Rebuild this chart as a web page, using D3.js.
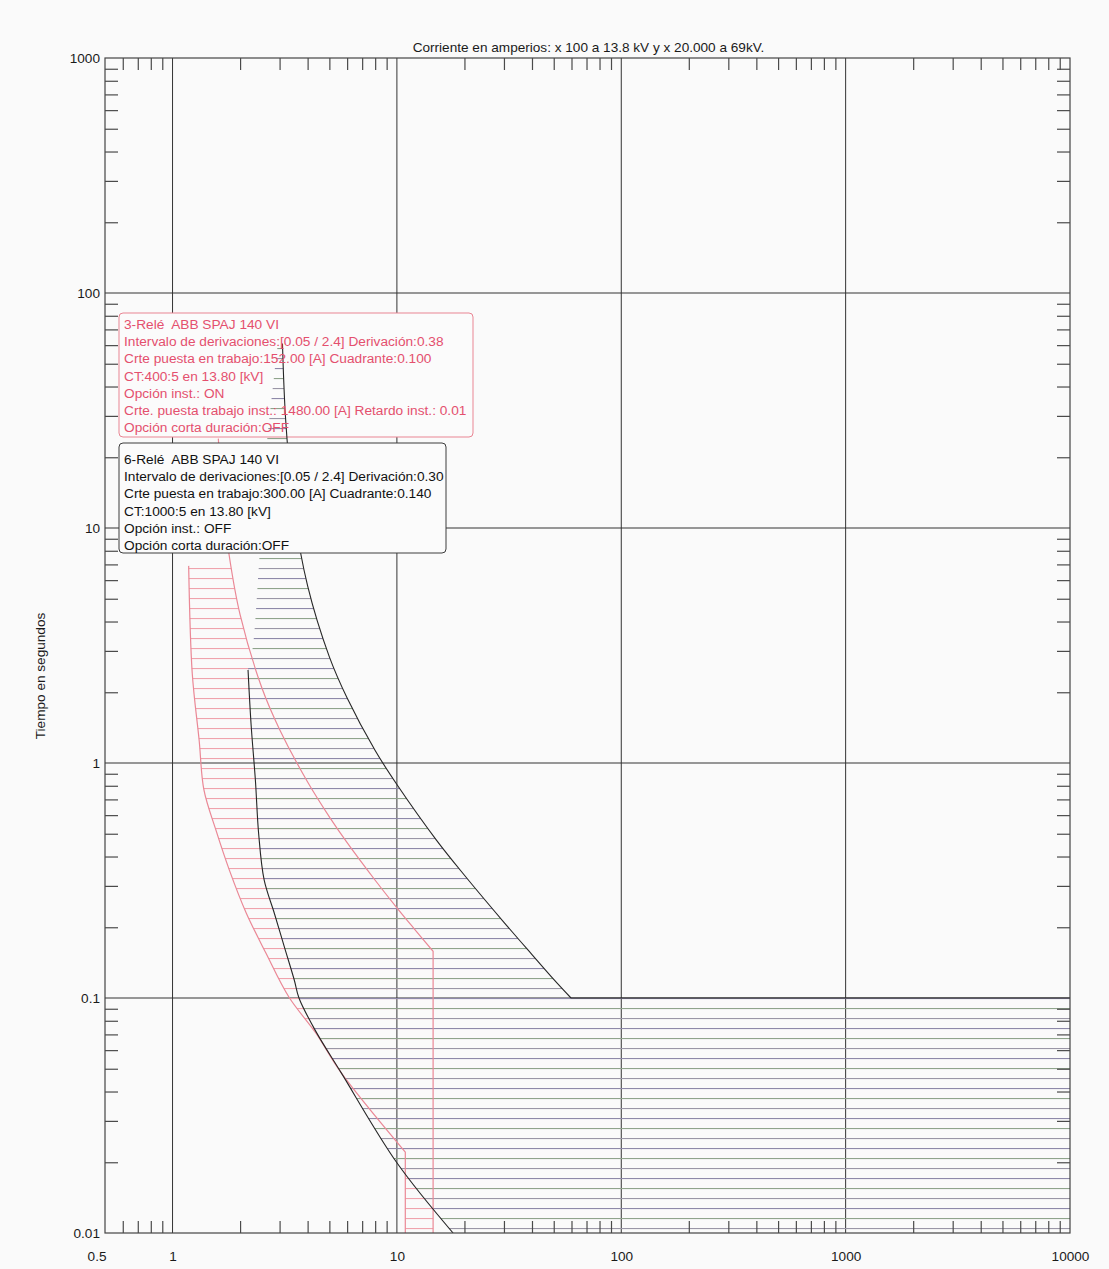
<!DOCTYPE html>
<html><head><meta charset="utf-8">
<script src="https://cdn.jsdelivr.net/npm/d3@7/dist/d3.min.js"></script>
<style>
body{margin:0;background:#fafafa;}
text{font-family:"Liberation Sans",Arial,sans-serif;white-space:pre;}
</style></head>
<body>
<svg id="chart" width="1109" height="1269"></svg>
<script>
// ---------- data ----------
const xMajor = [0.5, 1, 10, 100, 1000, 10000];
const xTickLabels = ["0.5", "1", "10", "100", "1000", "10000"];
const yMajor = [0.01, 0.1, 1, 10, 100, 1000];
const yTickLabels = ["0.01", "0.1", "1", "10", "100", "1000"];

const titleText = "Corriente en amperios: x 100 a 13.8 kV y x 20.000 a 69kV.";
const yLabelText = "Tiempo en segundos";

// Relay 3 (red) - minimum (left) curve, current (x100 A) / time (s)
const relay3MinI = [1.18, 1.224, 1.314, 1.38, 1.56, 1.79, 2.13, 2.61, 3.30, 4.35, 5.65, 10.9, 10.9];
const relay3MinT = [6.9, 2.41, 1.25, 0.768, 0.519, 0.351, 0.230, 0.155, 0.101, 0.071, 0.048, 0.0221, 0.01];
// Relay 3 (red) - maximum (right) curve with instantaneous at 14.5
const relay3MaxI = [1.60, 1.62, 1.70, 1.79, 2.0, 2.5, 3.0, 4.0, 5.0, 6.0, 8.0, 10, 12, 14.5, 14.5];
const relay3MaxT = [24, 20, 11.4, 7.6, 4.28, 2.09, 1.39, 0.83, 0.59, 0.458, 0.317, 0.242, 0.196, 0.158, 0.01];
const relay3BandTopT = 7.1;

// Relay 6 (black) - upper curve, then definite time at 0.1 s
const relay6MaxI = [3.09, 3.2, 3.5, 4.0, 5.0, 6.0, 8.0, 10, 15, 20, 30, 40, 50, 59.7];
const relay6MaxT = [61, 28, 11.3, 5.67, 2.83, 1.89, 1.13, 0.81, 0.47, 0.333, 0.21, 0.153, 0.12, 0.1];
const relay6FlatT = 0.1;
// Relay 6 (black) - lower curve
const relay6MinI = [2.17, 2.24, 2.34, 2.42, 2.56, 2.84, 3.15, 3.49, 3.66, 4.32, 5.65, 10.0, 17.8];
const relay6MinT = [2.49, 1.45, 0.846, 0.50, 0.318, 0.23, 0.165, 0.119, 0.1, 0.073, 0.048, 0.0199, 0.01];
// Relay 6 band left boundary above the lower curve (hatch edge only)
const relay6BandEdgeI = [2.95, 2.84, 2.6, 2.43, 2.27];
const relay6BandEdgeT = [61, 45, 20, 7.1, 3.03];

const legend3 = ["3-Relé  ABB SPAJ 140 VI",
  "Intervalo de derivaciones:[0.05 / 2.4] Derivación:0.38",
  "Crte puesta en trabajo:152.00 [A] Cuadrante:0.100",
  "CT:400:5 en 13.80 [kV]",
  "Opción inst.: ON",
  "Crte. puesta trabajo inst.: 1480.00 [A] Retardo inst.: 0.01",
  "Opción corta duración:OFF"];
const legend6 = ["6-Relé  ABB SPAJ 140 VI",
  "Intervalo de derivaciones:[0.05 / 2.4] Derivación:0.30",
  "Crte puesta en trabajo:300.00 [A] Cuadrante:0.140",
  "CT:1000:5 en 13.80 [kV]",
  "Opción inst.: OFF",
  "Opción corta duración:OFF"];

// ---------- layout ----------
const svg = d3.select("#chart");
const L = 105, R = 1070, T = 58, B = 1233;
const x = d3.scaleLog().domain([0.5, 10000]).range([L, R]);
const y = d3.scaleLog().domain([0.01, 1000]).range([B, T]);

const zip = (a, b) => a.map((v, i) => [v, b[i]]);
const smooth = d3.line().x(d => x(d[0])).y(d => y(d[1])).curve(d3.curveCatmullRom.alpha(0.5));
// smooth curve, with straight segments where the curve turns vertical at its ends
function curvePath(pts) {
  let start = 0, end = pts.length;
  if (pts.length > 2 && pts[end - 1][0] === pts[end - 2][0]) end -= 1;
  if (pts.length > 2 && pts[0][0] === pts[1][0]) start = 1;
  let d = smooth(pts.slice(start, end));
  if (start === 1) d = "M" + x(pts[0][0]) + "," + y(pts[0][1]) + d.replace(/^M/, "L");
  if (end < pts.length) d += "L" + x(pts[end][0]) + "," + y(pts[end][1]);
  return d;
}
const cont = d => d.replace(/^M/, "L");

svg.append("rect").attr("width", 1109).attr("height", 1269).attr("fill", "#fafafa");

// patterns
const defs = svg.append("defs");
const hOff = y(0.1);
const pb = defs.append("pattern").attr("id", "hatchBlack").attr("patternUnits", "userSpaceOnUse")
  .attr("x", 0).attr("y", hOff).attr("width", 1109).attr("height", 30);
pb.append("rect").attr("x", 0).attr("y", 0).attr("width", 1109).attr("height", 1.1).attr("fill", "#8e89a9");
pb.append("rect").attr("x", 0).attr("y", 10).attr("width", 1109).attr("height", 1.1).attr("fill", "#8fa48c");
pb.append("rect").attr("x", 0).attr("y", 20).attr("width", 1109).attr("height", 1.1).attr("fill", "#9a96a6");
const pr = defs.append("pattern").attr("id", "hatchRed").attr("patternUnits", "userSpaceOnUse")
  .attr("x", 0).attr("y", hOff).attr("width", 1109).attr("height", 10);
pr.append("rect").attr("x", 0).attr("y", 0).attr("width", 1109).attr("height", 1.1).attr("fill", "#efa3ad");
defs.append("clipPath").attr("id", "redTop").append("rect")
  .attr("x", L).attr("y", y(relay3BandTopT) - 1).attr("width", R - L).attr("height", B - y(relay3BandTopT) + 1);
defs.append("clipPath").attr("id", "plotClip").append("rect")
  .attr("x", L).attr("y", T).attr("width", R - L).attr("height", B - T);

// gridlines
const grid = svg.append("g").attr("stroke", "#333").attr("stroke-width", 1);
xMajor.slice(1, -1).forEach(v => grid.append("line").attr("x1", x(v)).attr("x2", x(v)).attr("y1", T).attr("y2", B));
yMajor.slice(1, -1).forEach(v => grid.append("line").attr("y1", y(v)).attr("y2", y(v)).attr("x1", L).attr("x2", R));

// legend box for relay 3 (drawn below curves)
function boxFrame(x0, y0, w, h, stroke) {
  svg.append("rect").attr("x", x0).attr("y", y0).attr("width", w).attr("height", h)
    .attr("rx", 4).attr("fill", "#fbfbfb").attr("stroke", stroke).attr("stroke-width", 1);
}
boxFrame(119, 313, 354, 124, "#e98593");

// bands
const plot = svg.append("g").attr("clip-path", "url(#plotClip)");
const r3min = zip(relay3MinI, relay3MinT);
const r3max = zip(relay3MaxI, relay3MaxT);
const r6max = zip(relay6MaxI, relay6MaxT);
const r6min = zip(relay6MinI, relay6MinT);
const r6edge = zip(relay6BandEdgeI, relay6BandEdgeT);

const redBand = curvePath(r3min) + cont(curvePath(r3max.slice().reverse())) + "Z";
plot.append("path").attr("d", redBand).attr("fill", "url(#hatchRed)").attr("clip-path", "url(#redTop)");

const blackBand = curvePath(r6edge.concat(r6min))
  + "L" + x(10000) + "," + y(0.01)
  + "L" + x(10000) + "," + y(relay6FlatT)
  + cont(curvePath(r6max.slice().reverse())) + "Z";
plot.append("path").attr("d", blackBand).attr("fill", "url(#hatchBlack)");

// curves
const redC = "#ea8896", blkC = "#262626";
plot.append("path").attr("d", curvePath(r3min)).attr("fill", "none").attr("stroke", redC).attr("stroke-width", 1.2);
plot.append("path").attr("d", curvePath(r3max)).attr("fill", "none").attr("stroke", redC).attr("stroke-width", 1.2);
plot.append("path").attr("d", curvePath(r6max)).attr("fill", "none").attr("stroke", blkC).attr("stroke-width", 1.1);
plot.append("path").attr("d", curvePath(r6min)).attr("fill", "none").attr("stroke", blkC).attr("stroke-width", 1.1);
plot.append("line").attr("x1", x(relay6MaxI[relay6MaxI.length - 1])).attr("x2", x(10000))
  .attr("y1", y(relay6FlatT)).attr("y2", y(relay6FlatT)).attr("stroke", blkC).attr("stroke-width", 1.1);

// frame
svg.append("rect").attr("x", L).attr("y", T).attr("width", R - L).attr("height", B - T)
  .attr("fill", "none").attr("stroke", "#444").attr("stroke-width", 1.2);

// minor ticks using axes
const xMinor = x.ticks().filter(v => !xMajor.some(m => Math.abs(m - v) / m < 1e-9));
const yMinor = y.ticks().filter(v => !yMajor.some(m => Math.abs(m - v) / m < 1e-9));
function styleTicks(g) {
  g.select(".domain").remove();
  g.selectAll(".tick line").attr("stroke", "#4a4a4a").attr("stroke-width", 1.2);
  g.selectAll(".tick text").remove();
}
svg.append("g").attr("transform", `translate(0,${B})`)
  .call(d3.axisBottom(x).tickValues(xMinor).tickSize(-12)).call(styleTicks);
svg.append("g").attr("transform", `translate(0,${T})`)
  .call(d3.axisTop(x).tickValues(xMinor).tickSize(-12)).call(styleTicks);
svg.append("g").attr("transform", `translate(${L},0)`)
  .call(d3.axisLeft(y).tickValues(yMinor).tickSize(-13)).call(styleTicks);
svg.append("g").attr("transform", `translate(${R},0)`)
  .call(d3.axisRight(y).tickValues(yMinor).tickSize(-13)).call(styleTicks);

// major labels
const FS = "13.6px";
const xAx = svg.append("g").attr("transform", `translate(0,${B})`)
  .call(d3.axisBottom(x).tickValues(xMajor).tickSize(0).tickPadding(18)
    .tickFormat((d, i) => xTickLabels[i]));
xAx.select(".domain").remove();
xAx.selectAll("text").attr("font-size", FS).attr("fill", "#1a1a1a")
  .attr("font-family", "'Liberation Sans', Arial, sans-serif");
xAx.selectAll(".tick").filter((d, i) => i === 0).select("text").attr("text-anchor", "end").attr("x", 1);

const yAx = svg.append("g").attr("transform", `translate(${L},0)`)
  .call(d3.axisLeft(y).tickValues(yMajor).tickSize(0).tickPadding(5)
    .tickFormat((d, i) => yTickLabels[i]));
yAx.select(".domain").remove();
yAx.selectAll("text").attr("font-size", FS).attr("fill", "#1a1a1a")
  .attr("font-family", "'Liberation Sans', Arial, sans-serif");

// title & axis label
svg.append("text").attr("x", (L + R) / 2 + 1).attr("y", 52).attr("text-anchor", "middle")
  .attr("font-size", FS).attr("fill", "#1a1a1a").text(titleText);
svg.append("text").attr("transform", `translate(45,676) rotate(-90)`).attr("text-anchor", "middle")
  .attr("font-size", FS).attr("fill", "#1a1a1a").text(yLabelText);

// legend texts
function legendText(lines, x0, y0, color) {
  const g = svg.append("g");
  lines.forEach((s, i) => g.append("text").attr("x", x0).attr("y", y0 + i * 17.2)
    .attr("xml:space", "preserve")
    .attr("font-size", "13.7px").attr("fill", color).text(s));
}
legendText(legend3, 124, 329, "#e4506e");
boxFrame(119, 443, 327, 110, "#3c3c3c");
legendText(legend6, 124, 464, "#111");
</script>
</body></html>
